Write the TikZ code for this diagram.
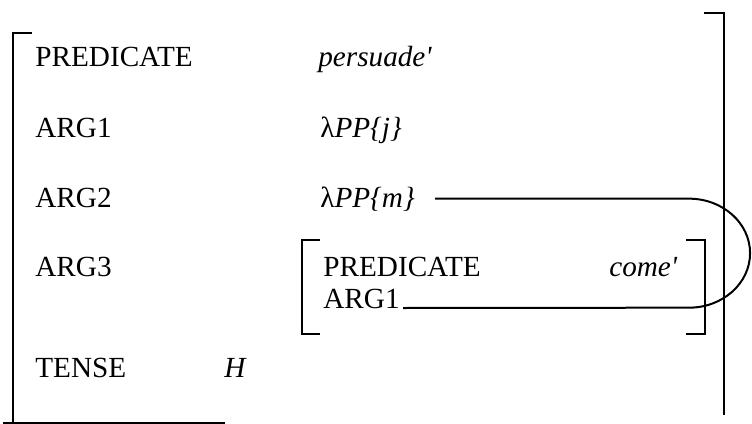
\documentclass[tikz,border=0pt]{standalone}
\usepackage{fontspec}
\setmainfont{Liberation Serif}
\begin{document}
\begin{tikzpicture}[x=0.5pt,y=-0.5pt,
  feat/.style={anchor=base west,inner sep=0pt,font=\fontsize{14.6}{17}\selectfont},
  brk/.style={line width=1.2pt},
  link/.style={line width=1pt}]
\useasboundingbox (0,0) rectangle (752,424);

% outer brackets
\draw [brk] (32,33) -- (13,33) -- (13,424);
\draw [brk] (3,423) -- (225,423);
\draw [brk] (704,13) -- (724,13) -- (724,415);

\node [feat] (pred) at (35,66) {PREDICATE};
\node [feat] (pers) at (318,66) {\textit{persuade\textquotesingle}};
\node [feat] (arga) at (35,137) {ARG1};
\node [feat] (lpj) at (320,137) {λ\textit{PP\{j\}}};
\node [feat] (argb) at (35,207) {ARG2};
\node [feat] (lpm) at (320,207) {λ\textit{PP\{m\}}};
\node [feat] (argc) at (35,276) {ARG3};
\node [feat] (tense) at (35,377) {TENSE};
\node [feat] (h) at (224,377) {\textit{H}};

% inner structure
\draw [brk] (320,240) -- (302,240) -- (302,334) -- (320,334);
\draw [brk] (686,240) -- (705,240) -- (705,334) -- (686,334);
\node [feat] (ipred) at (323,276) {PREDICATE};
\node [feat,anchor=base east] (come) at (678,276) {\textit{come\textquotesingle}};
\node [feat] (ia1) at (323,308) {ARG1};

\draw [link] ([xshift=10pt]lpm.east) -- ++(127pt,0)
  arc [start angle=90,end angle=-90,x radius=30.5pt,y radius=27.25pt]
  -- ([xshift=1.5pt]ia1.base east);
\end{tikzpicture}
\end{document}
